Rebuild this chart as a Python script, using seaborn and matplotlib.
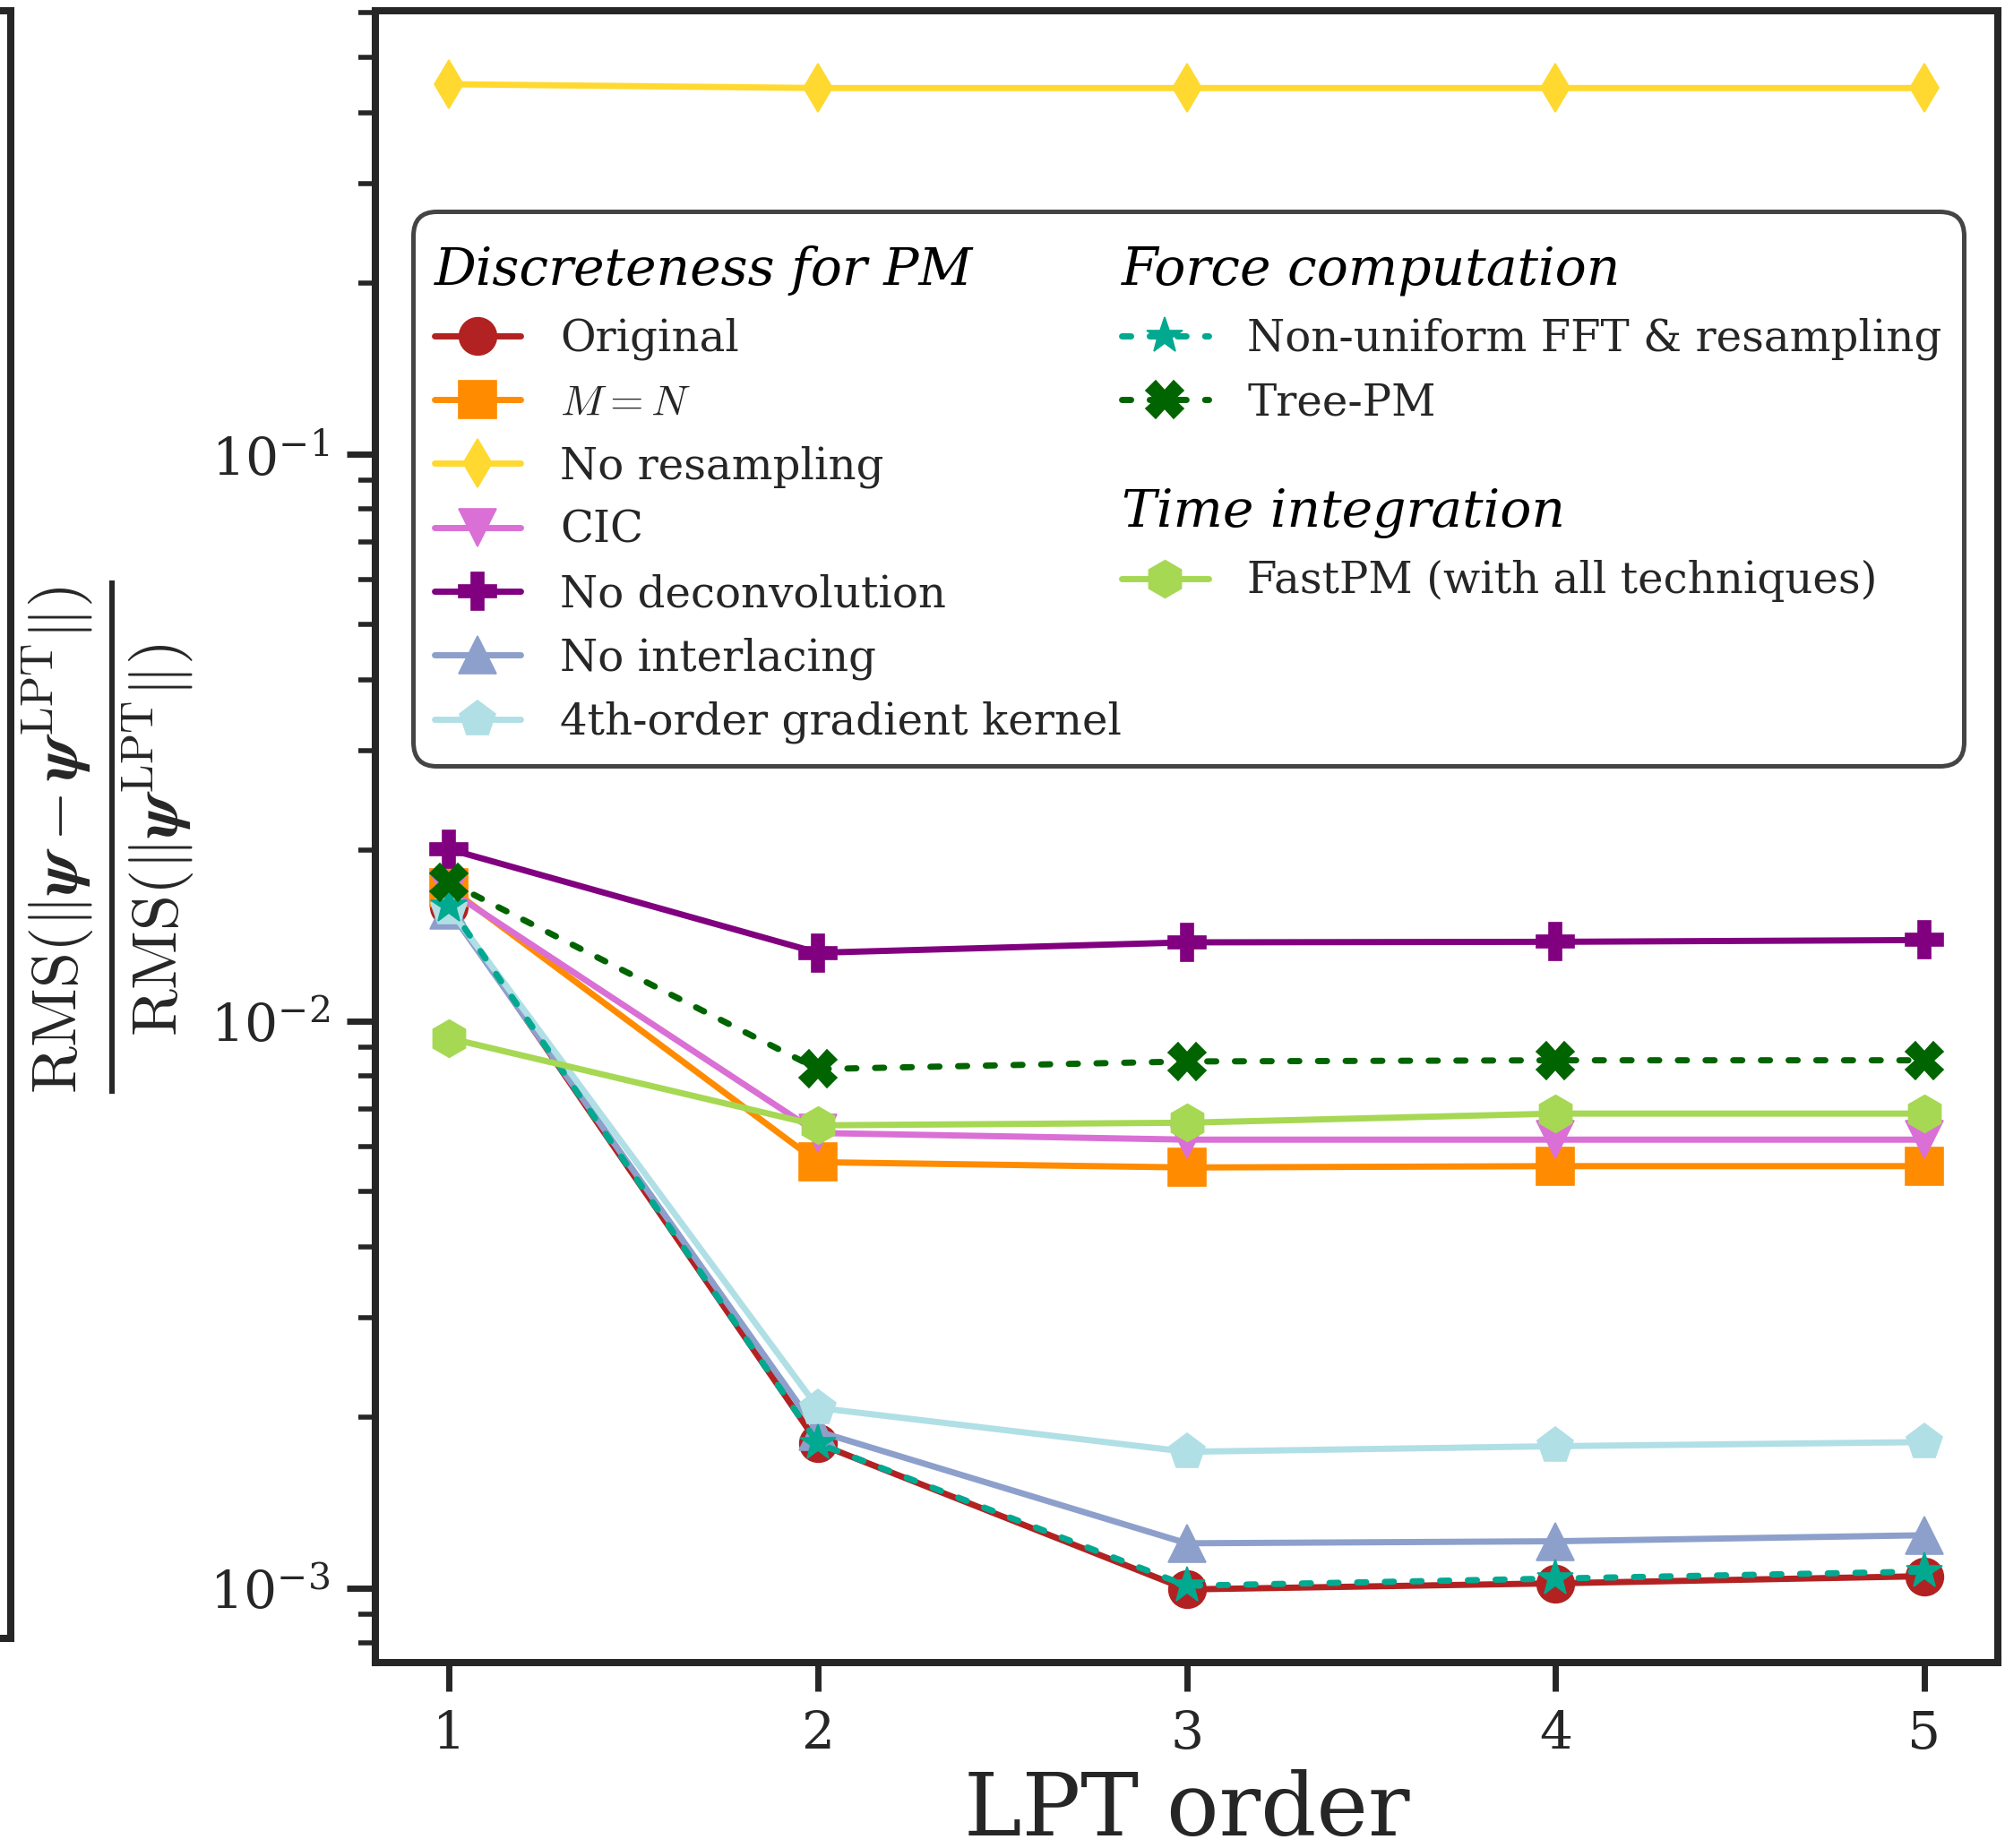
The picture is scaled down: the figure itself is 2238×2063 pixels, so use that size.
import matplotlib
matplotlib.use("Agg")
import matplotlib.pyplot as plt
from matplotlib.lines import Line2D
import numpy as np
import pandas as pd
import seaborn as sns

# DONNEES ------------------------------------------------------

lpt_order = [1, 2, 3, 4, 5]

original = [0.0159, 0.00180, 0.000995, 0.00102, 0.00105]
m_equals_n = [0.0172, 0.00564, 0.00552, 0.00555, 0.00555]
no_resampling = [0.449, 0.442, 0.442, 0.442, 0.442]
cic = [0.0170, 0.00635, 0.00618, 0.00618, 0.00618]
no_deconvolution = [0.0201, 0.0132, 0.01377, 0.0138, 0.0139]
no_interlacing = [0.0157, 0.00189, 0.00120, 0.00121, 0.00124]
gradient_4th = [0.0158, 0.00208, 0.00174, 0.00178, 0.00181]
nufft = [0.0160, 0.00180, 0.00101, 0.00104, 0.00107]
tree_pm = [0.01758, 0.00823, 0.00849, 0.00853, 0.00853]
fastpm = [0.00933, 0.00655, 0.00662, 0.00687, 0.00687]

dashed = (0, (1.45, 3.0))
series = [
    ("Original", original, "#b22222", "o", "-"),
    ("$M = N$", m_equals_n, "#ff8c00", "s", "-"),
    ("No resampling", no_resampling, "#ffd92f", "d", "-"),
    ("CIC", cic, "#da70d6", "v", "-"),
    ("No deconvolution", no_deconvolution, "#800080", "P", "-"),
    ("No interlacing", no_interlacing, "#8da0cb", "^", "-"),
    ("4th-order gradient kernel", gradient_4th, "#b0e0e6", "p", "-"),
    ("Non-uniform FFT & resampling", nufft, "#00a98f", "*", dashed),
    ("Tree-PM", tree_pm, "#006400", "X", dashed),
    ("FastPM (with all techniques)", fastpm, "#a6d854", "h", "-"),
]

df = pd.concat(
    [pd.DataFrame({"order": lpt_order, "rms": vals, "method": name})
     for name, vals, _, _, _ in series],
    ignore_index=True,
)

# STYLE --------------------------------------------------------

sns.set_theme(style="ticks")
plt.rcParams["font.family"] = ["DejaVu Serif"]
plt.rcParams["mathtext.fontset"] = "cm"
plt.rcParams["axes.edgecolor"] = "#262626"

fig = plt.figure(figsize=(11.19, 10.315), dpi=200)

# bord du panneau voisin (coupé)
ax0 = fig.add_axes([-0.5, 0.1134, 0.50514, 0.99418 - 0.1134])
ax0.set_xticks([])
ax0.set_yticks([])
for s in ax0.spines.values():
    s.set_linewidth(2.9)

ax = fig.add_axes([0.1872, 0.1001, 0.8094, 0.99418 - 0.1001])

handles = {}
for name, vals, color, marker, ls in series:
    sub = df[df["method"] == name]
    sns.lineplot(
        data=sub, x="order", y="rms", ax=ax, color=color, marker=marker,
        linestyle=ls, linewidth=2.5, markersize=15 if marker != "d" else 14,
        markeredgewidth=0.6, markeredgecolor=color, label=name, legend=False,
    )
    handles[name] = ax.lines[-1]
    if ls != "-":
        handles[name].set_dash_capstyle("round")

ax.set_yscale("log")
ax.set_xlim(0.8, 5.2)
ax.set_ylim(7.38e-4, 0.605)
ax.set_xticks(lpt_order)

for s in ax.spines.values():
    s.set_linewidth(2.9)
ax.tick_params(axis="both", which="major", length=11.5, width=2.5,
               labelsize=21, pad=7, color="#262626")
ax.tick_params(axis="y", which="minor", length=7, width=2.0, color="#262626")
ax.tick_params(axis="x", which="minor", length=0)

ax.set_xlabel("LPT order", fontsize=35, labelpad=4)
ax.set_ylabel(
    r"$\frac{\mathrm{RMS}(\|\boldsymbol{\psi} - \boldsymbol{\psi}^{\mathrm{LPT}}\|)}"
    r"{\mathrm{RMS}(\|\boldsymbol{\psi}^{\mathrm{LPT}}\|)}$",
    fontsize=37, labelpad=5,
)

# LEGENDE ------------------------------------------------------

titles = ["Discreteness for PM", "Force computation", "Time integration"]
blank = Line2D([], [], linestyle="none")

col1 = ["Original", "$M = N$", "No resampling", "CIC", "No deconvolution",
        "No interlacing", "4th-order gradient kernel"]
col2 = ["Non-uniform FFT & resampling", "Tree-PM"]
col3 = ["FastPM (with all techniques)"]

leg_handles = [blank] + [handles[n] for n in col1]
leg_labels = [titles[0]] + col1
leg_handles += [blank] + [handles[n] for n in col2] + [blank, blank] + [handles[n] for n in col3] + [blank]
leg_labels += [titles[1]] + col2 + ["", titles[2]] + col3 + [""]

leg = ax.legend(
    leg_handles, leg_labels, ncol=2, loc="upper left",
    bbox_to_anchor=(0.023, 0.8785), borderaxespad=0, fontsize=17.4,
    handlelength=2.0, handletextpad=0.9, labelspacing=0.5, columnspacing=0.0,
    frameon=True, fancybox=True, framealpha=1, edgecolor="#444444",
    borderpad=0.5,
)
leg.get_frame().set_linewidth(1.8)
leg.legendPatch.set_boxstyle("round,pad=0,rounding_size=0.55")

for t in leg.get_texts():
    if t.get_text() in titles:
        t.set_fontstyle("italic")
        t.set_fontsize(21)
        t.set_color("black")

# titres sans poignée, un peu plus d'air au-dessus ; ligne vide plus courte
for col in leg._legend_handle_box.get_children():
    rows = col.get_children()
    for i, row in enumerate(rows):
        da, ta = row.get_children()
        txt = ta._text.get_text()
        if txt in titles:
            da.width = 0
            da.height = 25.2
            row.sep = 0
            row.align = "bottom"
        elif txt == "" and i + 1 < len(rows) and rows[i + 1].get_children()[1]._text.get_text() in titles:
            ta._text.set_fontsize(2.5)
            da.height = 2.8

fig.savefig("out.png", dpi=200)
